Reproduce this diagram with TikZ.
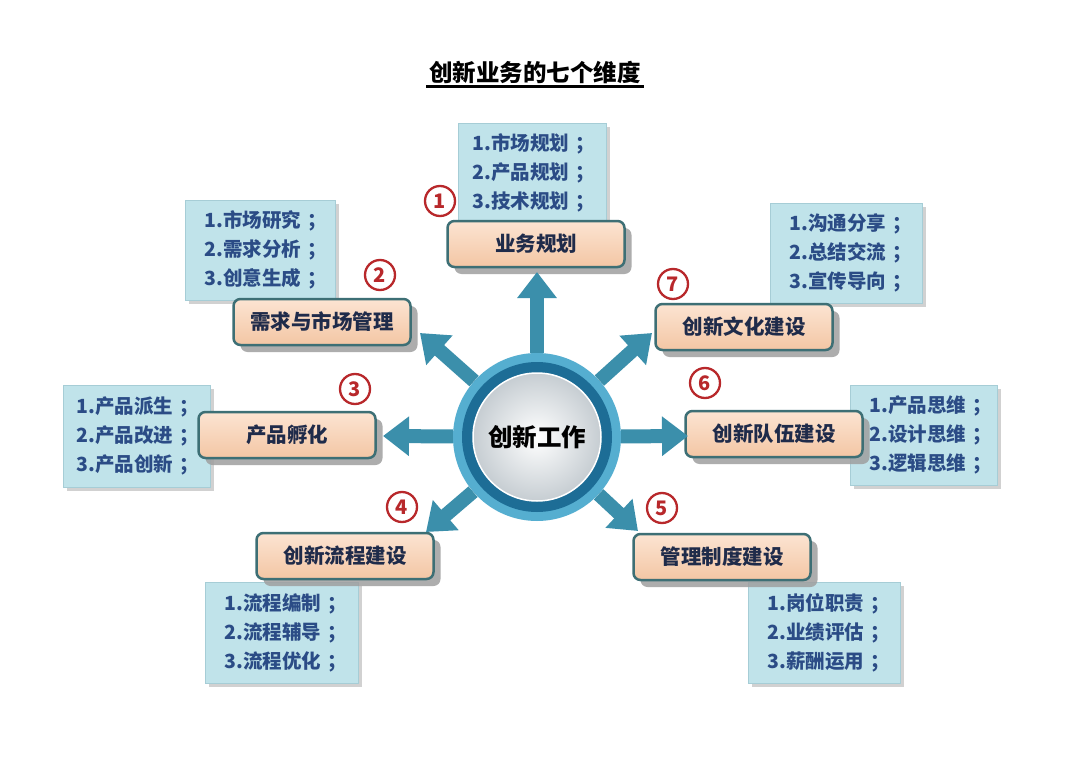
\documentclass[tikz,border=0pt]{standalone}
\usepackage{fontspec}
\setmainfont{Noto Sans CJK SC}
\usetikzlibrary{arrows.meta,shadows}
\definecolor{arrowc}{HTML}{3B8FAB}
\definecolor{labtop}{HTML}{FCE4D2}
\definecolor{labbot}{HTML}{F3C6A4}
\definecolor{labdraw}{HTML}{3D6F75}
\definecolor{labtext}{HTML}{1F2B4A}
\definecolor{infofill}{HTML}{C0E3EA}
\definecolor{infodraw}{HTML}{A6CDD6}
\definecolor{infotext}{HTML}{2B4C86}
\definecolor{numred}{HTML}{B8282B}
\definecolor{rimblue}{HTML}{55AED0}
\definecolor{ringblue}{HTML}{1D6D96}
\definecolor{innergray}{HTML}{C6CDD2}
\newcommand{\semi}{\hspace{6pt}；}
\tikzset{
  lab/.style={rectangle, rounded corners=7pt, top color=labtop, bottom color=labbot,
    draw=labdraw, line width=2.5pt, minimum width=177pt, minimum height=46pt,
    text=labtext, font=\fontsize{20.5pt}{22pt}\selectfont\bfseries,
    drop shadow={shadow xshift=7pt, shadow yshift=-7pt, fill=gray!75, opacity=0.85}},
  info/.style={rectangle, fill=infofill, draw=infodraw, line width=0.6pt,
    anchor=north west, inner xsep=0pt, inner ysep=0pt, align=left,
    text=infotext, font=\fontsize{19.5pt}{29pt}\selectfont\bfseries,
    drop shadow={shadow xshift=4pt, shadow yshift=-4pt, fill=gray!45, opacity=0.8}},
  num/.style={circle, draw=numred, line width=2.3pt, inner sep=0pt, minimum size=30pt,
    text=numred, font=\fontsize{20pt}{20pt}\selectfont\bfseries},
  arr/.style={draw=arrowc, line width=14pt, -{Triangle[length=26pt,width=38pt]}}
}
\begin{document}
\begin{tikzpicture}[x=1pt,y=-1pt]
\fill[white] (0,0) rectangle (1080,760);
\useasboundingbox (0,0) rectangle (1080,760);

% title
\node[anchor=south, inner xsep=3pt, inner ysep=3pt,
  font=\fontsize{23.5pt}{26pt}\selectfont\bfseries] (ttl) at (535,87) {创新业务的七个维度};
\draw[line width=3pt] (ttl.south west) -- (ttl.south east);

% info boxes
\node[info, minimum width=148pt, minimum height=99pt, text width=148pt] (i1) at (458,123)
  {\hspace*{14pt}1.市场规划\semi\\\hspace*{14pt}2.产品规划\semi\\\hspace*{14pt}3.技术规划\semi};
\node[info, minimum width=150pt, minimum height=100pt, text width=150pt] (i2) at (185,200)
  {\hspace*{19pt}1.市场研究\semi\\\hspace*{19pt}2.需求分析\semi\\\hspace*{19pt}3.创意生成\semi};
\node[info, minimum width=147pt, minimum height=102pt, text width=147pt] (i3) at (63,385)
  {\hspace*{13pt}1.产品派生\semi\\\hspace*{13pt}2.产品改进\semi\\\hspace*{13pt}3.产品创新\semi};
\node[info, minimum width=153pt, minimum height=101pt, text width=153pt] (i4) at (205,582)
  {\hspace*{19pt}1.流程编制\semi\\\hspace*{19pt}2.流程辅导\semi\\\hspace*{19pt}3.流程优化\semi};
\node[info, minimum width=152pt, minimum height=101pt, text width=152pt] (i5) at (748,582)
  {\hspace*{19pt}1.岗位职责\semi\\\hspace*{19pt}2.业绩评估\semi\\\hspace*{19pt}3.薪酬运用\semi};
\node[info, minimum width=147pt, minimum height=100pt, text width=147pt] (i6) at (850,385)
  {\hspace*{19pt}1.产品思维\semi\\\hspace*{19pt}2.设计思维\semi\\\hspace*{19pt}3.逻辑思维\semi};
\node[info, minimum width=152pt, minimum height=100pt, text width=152pt] (i7) at (770,203)
  {\hspace*{19pt}1.沟通分享\semi\\\hspace*{19pt}2.总结交流\semi\\\hspace*{19pt}3.宣传导向\semi};

% label boxes
\node[lab] (b1) at (536,244) {业务规划};
\node[lab] (b2) at (322,322) {需求与市场管理};
\node[lab] (b3) at (287,435) {产品孵化};
\node[lab] (b4) at (345,556) {创新流程建设};
\node[lab] (b5) at (722,557) {管理制度建设};
\node[lab] (b6) at (774,434) {创新队伍建设};
\node[lab] (b7) at (744,327) {创新文化建设};

% numbers
\node[num] (n1) at (440,201) {1};
\node[num] (n2) at (380,275) {2};
\node[num] (n3) at (355,389) {3};
\node[num] (n4) at (402,507) {4};
\node[num] (n5) at (662,508) {5};
\node[num] (n6) at (705,383) {6};
\node[num] (n7) at (673,284) {7};

% central circle
\fill[rimblue] (537,437) circle (84);
\fill[ringblue] (537,437) circle (75);
\shade[inner color=white, outer color=innergray] (537,437) circle (64);
\draw[white, line width=1.5pt] (537,437) circle (64);
\node[circle, minimum size=168pt, inner sep=0pt,
  font=\fontsize{24.5pt}{26pt}\selectfont\bfseries] (c) at (537,437) {创新工作};

% arrow tips
\coordinate (t1) at (537,272);
\coordinate (t2) at (420,333);
\coordinate (t3) at (383,436);
\coordinate (t4) at (426,532);
\coordinate (t5) at (638,531);
\coordinate (t6) at (688,436);
\coordinate (t7) at (652,333);
\foreach \k in {1,...,7} {\draw[arr] (c) -- (t\k);}
\end{tikzpicture}
\end{document}
